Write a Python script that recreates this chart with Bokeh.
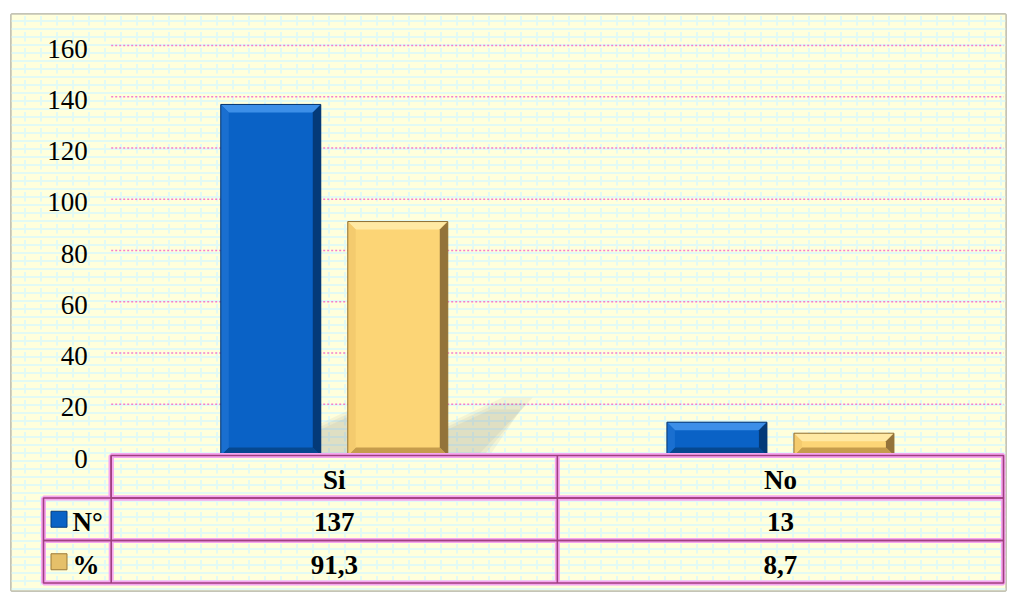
from bokeh.plotting import figure
from bokeh.models import Range1d
from bokeh.core.properties import value
from bokeh.embed import file_html
from bokeh.resources import INLINE

# ---------------- data ----------------
categories = ["Si", "No"]
series_names = ["N°", "%"]
n_values = [137, 13]
pct_values = [91.3, 8.7]
n_labels = ["137", "13"]
pct_labels = ["91,3", "8,7"]
y_ticks = [0, 20, 40, 60, 80, 100, 120, 140, 160]

# ---------------- layout helpers ----------------
W, H = 1012, 592
PX_X = 446.15      # pixels per category unit
PX_Y = 2.5625      # pixels per value unit
def dx(px):
    return px / PX_X
def dy(px):
    return px / PX_Y

FONT = value("Liberation Serif")

x_start, x_end = -dx(99.7), 2 + dx(2)
y_start, y_end = -dy(135), dy(441)

p = figure(width=W, height=H, output_backend="svg", toolbar_location=None,
           x_range=Range1d(x_start, x_end), y_range=Range1d(y_start, y_end),
           x_axis_location=None, y_axis_location=None,
           min_border_left=11, min_border_right=7, min_border_top=14, min_border_bottom=2)
p.grid.visible = False
p.background_fill_color = "#FFFFDC"
p.border_fill_color = "white"
p.outline_line_color = "#C4C4B6"
p.outline_line_width = 3

# brick-like pattern
p.quad(left=[x_start], right=[x_end], bottom=[y_start], top=[y_end],
       fill_color="#FFFFDC", line_color=None,
       hatch_pattern="horizontal_line", hatch_color="#E2FAF4", hatch_scale=8, hatch_weight=2)
p.quad(left=[x_start], right=[x_end], bottom=[y_start], top=[y_end],
       fill_color=None, line_color=None,
       hatch_pattern="vertical_dash", hatch_color="#E2FAF4", hatch_scale=16, hatch_weight=2)

# gridlines (dotted pink)
grid_vals = [t for t in y_ticks if t > 0]
p.segment(x0=[0] * len(grid_vals), x1=[2] * len(grid_vals), y0=grid_vals, y1=grid_vals,
          line_color="#F57FCB", line_width=1.5, line_dash="2 2")

# y tick labels
p.text(x=[-dx(23.5)] * len(y_ticks), y=y_ticks, text=[str(t) for t in y_ticks],
       text_font=FONT, text_font_size="27px", text_color="black",
       text_align="right", text_baseline="middle", y_offset=3)

# bars
centers = [i + 0.5 for i in range(len(categories))]
bw = dx(100)
off = dx(63.5)
series = [
    # values, offset, main, top, left, right, bottom, edge
    (n_values, -off, "#0A62C6", "#3D8FE8", "#1A6FD0", "#043A78", "#064890", "#06356E"),
    (pct_values, off, "#FCD576", "#FFE9A4", "#F4CB6E", "#93733A", "#C59C4C", "#8E7036"),
]

# soft shadows cast by the tall bars (drawn behind the bars)
for vals, o, *_ in series:
    for c, v in zip(centers, vals):
        if v < 50:
            continue
        r = c + o + bw / 2
        for k, a in ((0, 0.07), (6, 0.07), (12, 0.07)):
            p.patch(x=[r, r, r + dx(55 - k), r + dx(85 - k), r + dx(30 + k)],
                    y=[0, dy(32 - k / 2), dy(58 - k), dy(58 - k), 0],
                    fill_color="#606060", fill_alpha=a, line_color=None)

for vals, o, main, ctop, cleft, cright, cbot, edge in series:
    for c, v in zip(centers, vals):
        L, R = c + o - bw / 2, c + o + bw / 2
        T = v
        bx = dx(8)
        by = min(dy(8), T / 2.5)
        p.quad(left=[L], right=[R], bottom=[0], top=[T], fill_color=main, line_color=None)
        p.patches(
            xs=[[L, R, R - bx, L + bx], [L, R, R - bx, L + bx],
                [L, L, L + bx, L + bx], [R, R, R - bx, R - bx]],
            ys=[[T, T, T - by, T - by], [0, 0, by, by],
                [0, T, T - by, by], [0, T, T - by, by]],
            fill_color=[ctop, cbot, cleft, cright], line_color=None)
        p.quad(left=[L], right=[R], bottom=[0], top=[T], fill_color=None,
               line_color=edge, line_width=1)

# data table
row_h = dy(42.5)
leg_left = -dx(67.7)
tops = [0, -row_h, -2 * row_h]
bots = [-row_h, -2 * row_h, -3 * row_h]
lefts = [0, leg_left, leg_left]
for lc, lw in (("#F6A6F0", 5), ("#A0407F", 1.6)):
    p.quad(left=lefts, right=[2, 2, 2], top=tops, bottom=bots,
           fill_color=None, line_color=lc, line_width=lw)
    p.segment(x0=[0, 1], x1=[0, 1], y0=[0, 0], y1=[bots[-1], bots[-1]],
              line_color=lc, line_width=lw)

row_mid = [(t + b) / 2 for t, b in zip(tops, bots)]
bold = dict(text_font=FONT, text_font_size="27px", text_font_style="bold",
            text_color="black", text_baseline="middle", y_offset=3)
p.text(x=centers, y=[row_mid[0]] * 2, text=categories, text_align="center", **bold)
p.text(x=centers, y=[row_mid[1]] * 2, text=n_labels, text_align="center", **bold)
p.text(x=centers, y=[row_mid[2]] * 2, text=pct_labels, text_align="center", **bold)

# legend keys
p.scatter(x=[leg_left + dx(15.5)] * 2, y=row_mid[1:], marker="square", size=16,
          fill_color=["#0A63C6", "#E5C06A"], line_color=["#053C7C", "#9C7A38"], line_width=1)
p.text(x=[leg_left + dx(29)] * 2, y=row_mid[1:], text=series_names, text_align="left", **bold)

open("out.html", "w").write(file_html(p, INLINE))
